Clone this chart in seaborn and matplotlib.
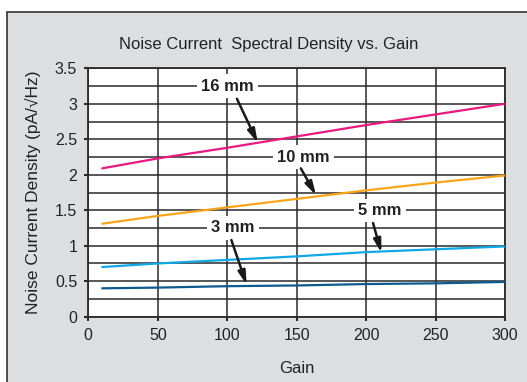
import numpy as np
import pandas as pd
import matplotlib.pyplot as plt
import seaborn as sns
from matplotlib.patches import Rectangle
from matplotlib.ticker import MultipleLocator

sns.set_style("white")
plt.rcParams['font.family'] = ['Liberation Sans', 'DejaVu Sans']

# ── Data ────────────────────────────────────────────────────────────────────
gain = [10, 50, 100, 150, 200, 250, 300]
d16 = [2.09, 2.23, 2.38, 2.54, 2.70, 2.85, 3.00]
d10 = [1.31, 1.42, 1.54, 1.66, 1.78, 1.89, 1.99]
d5 = [0.70, 0.75, 0.80, 0.85, 0.91, 0.95, 0.99]
d3 = [0.40, 0.41, 0.43, 0.44, 0.46, 0.47, 0.49]
series = ["16 mm", "10 mm", "5 mm", "3 mm"]
colors = ["#e8197f", "#f9a51b", "#10a8e4", "#0d5a8e"]

# label position and arrow (tail, tip) in data units
label_xy = [(100, 3.25), (155, 2.25), (210, 1.5), (104, 1.25)]
arrow_tail = [(107, 3.07), (153, 2.09), (205, 1.32), (103, 1.08)]
arrow_tip = [(122, 2.45), (164, 1.71), (211, 0.90), (114, 0.45)]

df = pd.DataFrame({"Gain": gain * 4,
                   "Density": d16 + d10 + d5 + d3,
                   "Size": sum([[s] * len(gain) for s in series], [])})

# ── Figure ──────────────────────────────────────────────────────────────────
fig = plt.figure(figsize=(5.27, 3.82), dpi=100)
fig.patch.set_facecolor("white")
fig.patches.append(Rectangle((7 / 527, -0.05), 1.1, 1 - 12 / 382 + 0.05,
                             transform=fig.transFigure, facecolor="#dddee0",
                             edgecolor="#333333", linewidth=1.2, zorder=-10))

ax = fig.add_axes([88.3 / 527, 1 - 316.7 / 382, (505 - 88.3) / 527, (316.7 - 68.3) / 382])
ax.set_facecolor("white")

sns.lineplot(data=df, x="Gain", y="Density", hue="Size", palette=colors,
             linewidth=1.6, legend=False, ax=ax, zorder=3)

ax.set_xlim(0, 300)
ax.set_ylim(0, 3.5)
ax.xaxis.set_major_locator(MultipleLocator(50))
ax.yaxis.set_minor_locator(MultipleLocator(0.25))
ax.set_yticks([0, 0.5, 1, 1.5, 2, 2.5, 3, 3.5])
ax.set_yticklabels(["0", "0.5", "1", "1.5", "2", "2.5", "3", "3.5"])
ax.grid(True, which="both", color="#2a2a2a", linewidth=1.1, zorder=1)
ax.set_axisbelow(True)
for sp in ax.spines.values():
    sp.set_color("#2a2a2a")
    sp.set_linewidth(1.3)
ax.tick_params(axis="both", which="major", direction="out", length=3, width=1.5,
               color="#2a2a2a", labelsize=11.5, labelcolor="#222222", pad=5,
               left=True, bottom=True)
ax.tick_params(axis="y", which="minor", length=0)

ax.set_xlabel("Gain", fontsize=12, color="#222222", labelpad=13)
ax.set_ylabel("Noise Current Density (pA/\u221aHz)", fontsize=12.5, color="#222222",
              labelpad=10)
fig.text(269 / 527, 1 - 45 / 382, "Noise Current  Spectral Density vs. Gain",
         ha="center", va="center", fontsize=12, color="#222222")

for name, (lx, ly), tail, tip in zip(series, label_xy, arrow_tail, arrow_tip):
    ax.text(lx, ly, name, ha="center", va="center", fontsize=12,
            fontweight="bold", color="#222222", zorder=5,
            bbox=dict(boxstyle="square,pad=0.25", facecolor="white", edgecolor="none"))
    ax.annotate("", xy=tip, xytext=tail, zorder=6,
                arrowprops=dict(arrowstyle="-|>,head_length=0.8,head_width=0.22",
                                color="#1a1a1a", linewidth=1.8, shrinkA=0, shrinkB=0))

plt.savefig("out.png", dpi=100)
